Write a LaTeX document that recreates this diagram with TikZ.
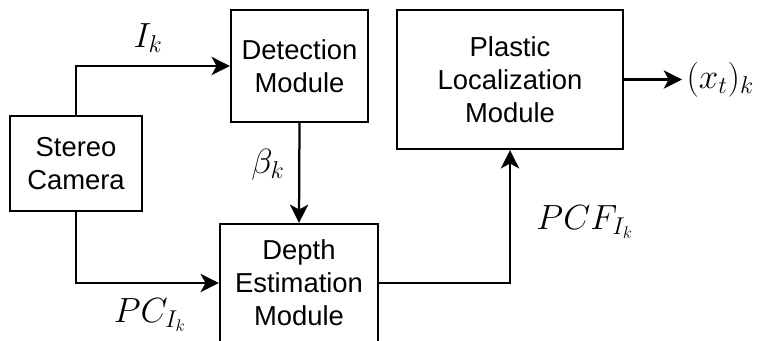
\documentclass[tikz,border=0pt]{standalone}
\usepackage{fontspec}
\setmainfont{Liberation Sans}
\usetikzlibrary{arrows.meta}

\begin{document}
\begin{tikzpicture}[>={Stealth[length=13pt, width=13pt, inset=3.5pt]},
    block/.style={draw, line width=1.6pt, align=center, font=\fontsize{19.5}{23.5}\selectfont},
    lbl/.style={font=\fontsize{24.5}{28}\selectfont},
    flow/.style={->, line width=1.6pt}]
    \useasboundingbox (0, 0) rectangle (19.15, 8.525);

    % Blöcke
    \node[block, minimum width=3.3cm, minimum height=2.375cm] (cam) at (1.9, 4.4375) {Stereo\\Camera};
    \node[block, minimum width=3.425cm, minimum height=2.8cm] (det) at (7.4875, 6.875) {Detection\\Module};
    \node[block, minimum width=3.95cm, minimum height=2.95cm] (depth) at (7.475, 1.45) {Depth\\Estimation\\Module};
    \node[block, minimum width=5.65cm, minimum height=3.475cm] (plm) at (12.75, 6.5375) {Plastic\\Localization\\Module};

    % Ausgang
    \node[lbl, anchor=west, inner sep=3pt, font=\fontsize{23}{26}\selectfont] (out) at (17.05, 6.5375) {$(x_t)_k$};

    % Pfeile
    \draw[flow] (cam.north) |- (det.west);
    \draw[flow] (cam.south) |- (depth.west);
    \draw[flow] (det.south) -- (depth.north);
    \draw[flow] (depth.east) -| (plm.south);
    \draw[flow] (plm.east) -- (out.west);

    % Beschriftungen
    \node[lbl] (ik) at (3.7, 7.575) {$I_k$};
    \node[lbl] (beta) at (6.7, 4.4) {$\beta_k$};
    \node[lbl] (pc) at (3.75, 0.65) {$PC_{I_k}$};
    \node[lbl] (pcf) at (14.625, 2.975) {$PCF_{I_k}$};
\end{tikzpicture}
\end{document}
